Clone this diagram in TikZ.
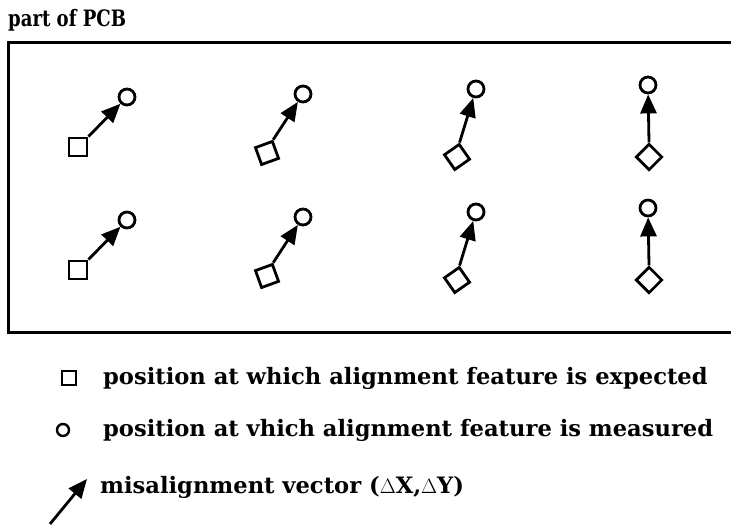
\documentclass[tikz,border=0pt]{standalone}
\usepackage{graphicx}
\usepackage{fontspec}
\setmainfont{DejaVu Serif}
\usetikzlibrary{arrows.meta}
\tikzset{
  sq/.style={draw, line width=2.8pt, minimum size=18pt, inner sep=0pt, shape=rectangle},
  circ/.style={draw, line width=2.8pt, circle, minimum size=16pt, inner sep=0pt},
  vec/.style={line width=2.8pt, -{Triangle[length=19pt,width=16pt]}},
  lbl/.style={font=\bfseries\fontsize{22.6}{26}\selectfont, anchor=west, inner sep=0pt},
}
\begin{document}
\begin{tikzpicture}[x=1pt,y=-1pt]
\useasboundingbox (0,0) rectangle (731,526);
\begin{scope}
\clip (0,0) rectangle (731,526);
\draw[line width=3pt] (740,43) -- (8,43) -- (8,333) -- (740,333);
\end{scope}
\node[lbl] (title) at (8,20) {\scalebox{0.8}[1]{part of PCB}};
\foreach \r/\dy in {a/0, b/123} {
  \node[sq] (s1\r) at (78,147+\dy) {};
  \node[circ] (c1\r) at (127,97+\dy) {};
  \draw[vec] (s1\r.north east) -- (c1\r);
  \node[sq, rotate=20] (s2\r) at (267,153+\dy) {};
  \node[circ] (c2\r) at (303,94+\dy) {};
  \draw[vec] (s2\r.north east) -- (c2\r);
  \node[sq, rotate=35] (s3\r) at (457,157+\dy) {};
  \node[circ] (c3\r) at (476,89+\dy) {};
  \draw[vec] (s3\r.north east) -- (c3\r);
  \node[sq, rotate=45] (s4\r) at (649,157+\dy) {};
  \node[circ] (c4\r) at (648,85+\dy) {};
  \draw[vec] (s4\r.north east) -- (c4\r);
}
\node[sq, minimum size=14pt, line width=2.4pt] (lsq) at (69,378) {};
\node[lbl] (t1) at (103,378) {position at which alignment feature is expected};
\node[circ, minimum size=12pt, line width=2.4pt] (lci) at (63,430) {};
\node[lbl] (t2) at (103,430) {position at vhich alignment feature is measured};
\coordinate (atail) at (50,524);
\coordinate (ahead) at (87,479);
\draw[vec] (atail) -- (ahead);
\node[lbl] (t3) at (100,487) {misalignment vector ($\Delta$X,$\Delta$Y)};
\end{tikzpicture}
\end{document}
